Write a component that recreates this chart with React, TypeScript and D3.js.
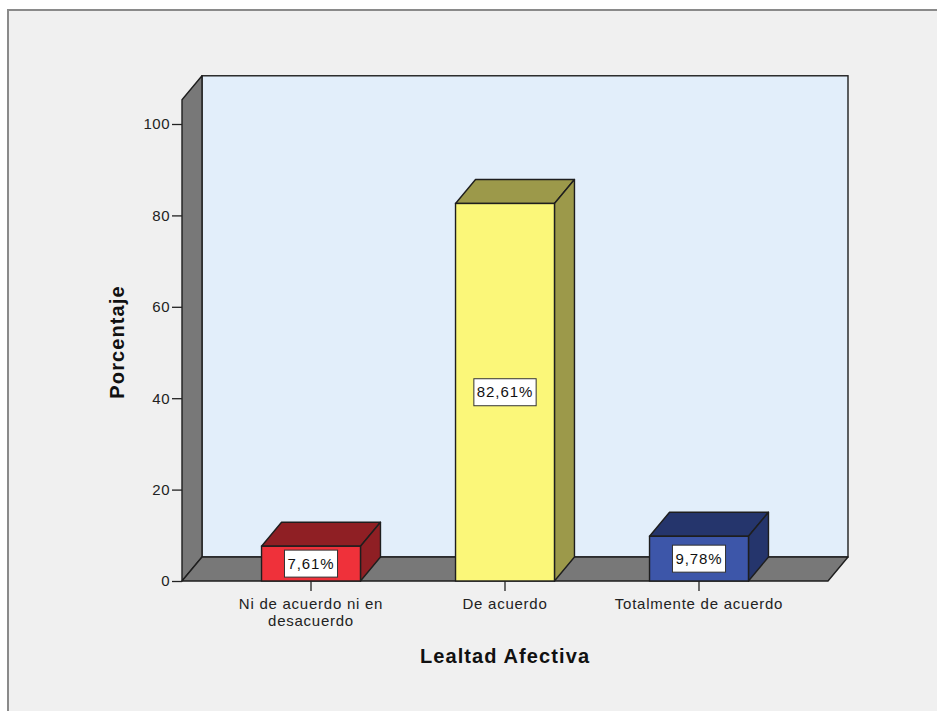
import React, { useEffect, useRef } from "react";
import * as d3 from "d3";

// datos del gráfico
const categories = ["Ni de acuerdo ni en desacuerdo", "De acuerdo", "Totalmente de acuerdo"];
const percentages = [7.61, 82.61, 9.78];
const valueLabels = ["7,61%", "82,61%", "9,78%"];
const yTicks = [0, 20, 40, 60, 80, 100];
const frontColors = ["#ef313a", "#fbf779", "#3d56a9"];
const shadeColors = ["#8f1f24", "#9c994a", "#25356c"];

const W = 937;
const H = 711;
const DX = 20;
const DY = -24;
const FONT = "Arial, 'Liberation Sans', sans-serif";

const App = () => {
  const ref = useRef<SVGSVGElement>(null);

  useEffect(() => {
    const svg = d3.select(ref.current);
    svg.selectAll("*").remove();

    const left = 182;
    const right = 828;
    const y = d3.scaleLinear().domain([0, 100]).range([581, 124]);
    const x = d3.scalePoint<string>().domain(categories).range([left, right]).padding(0.665);
    const barW = x.step() * 0.51;
    const y0 = y(0);
    const yTop = y(105.3);

    // fondo y marco
    svg.append("rect").attr("width", W).attr("height", H).attr("fill", "#fff");
    svg.append("rect")
      .attr("x", 8).attr("y", 10).attr("width", W + 10).attr("height", H + 10)
      .attr("fill", "#f0f0f0").attr("stroke", "#8a8a8a").attr("stroke-width", 2);

    const stroke = "#1e1e1e";
    const sw = 1.4;

    // pared de fondo
    svg.append("rect")
      .attr("x", left + DX).attr("y", yTop + DY)
      .attr("width", right - left).attr("height", y0 - yTop)
      .attr("fill", "#e2eefa").attr("stroke", stroke).attr("stroke-width", sw);

    // pared izquierda
    svg.append("path")
      .attr("d", `M${left},${yTop}L${left + DX},${yTop + DY}L${left + DX},${y0 + DY}L${left},${y0}Z`)
      .attr("fill", "#787878").attr("stroke", stroke).attr("stroke-width", sw)
      .attr("stroke-linejoin", "round");

    // suelo
    svg.append("path")
      .attr("d", `M${left},${y0}L${left + DX},${y0 + DY}L${right + DX},${y0 + DY}L${right},${y0}Z`)
      .attr("fill", "#787878").attr("stroke", stroke).attr("stroke-width", sw)
      .attr("stroke-linejoin", "round");

    // eje Y
    const yAxis = svg.append("g")
      .attr("transform", `translate(${left},0)`)
      .call(d3.axisLeft(y).tickValues(yTicks).tickSize(10).tickPadding(2).tickFormat(d3.format("d")));
    yAxis.select(".domain").remove();
    yAxis.selectAll("line").attr("stroke", "#222").attr("stroke-width", 1.3);
    yAxis.selectAll("text")
      .attr("font-family", FONT).attr("font-size", 15).attr("letter-spacing", 0.5)
      .attr("fill", "#222");

    // barras
    categories.forEach((c, i) => {
      const cx = x(c) as number;
      const x1 = cx - barW / 2;
      const x2 = cx + barW / 2;
      const yt = y(percentages[i]);
      const g = svg.append("g");
      g.append("path")
        .attr("d", `M${x1},${yt}L${x1 + DX},${yt + DY}L${x2 + DX},${yt + DY}L${x2},${yt}Z`)
        .attr("fill", shadeColors[i]).attr("stroke", stroke).attr("stroke-width", sw)
        .attr("stroke-linejoin", "round");
      g.append("path")
        .attr("d", `M${x2},${yt}L${x2 + DX},${yt + DY}L${x2 + DX},${y0 + DY}L${x2},${y0}Z`)
        .attr("fill", shadeColors[i]).attr("stroke", stroke).attr("stroke-width", sw)
        .attr("stroke-linejoin", "round");
      g.append("rect")
        .attr("x", x1).attr("y", yt).attr("width", barW).attr("height", y0 - yt)
        .attr("fill", frontColors[i]).attr("stroke", stroke).attr("stroke-width", sw);

      // etiqueta de valor
      const cy = (yt + y0) / 2;
      const box = g.append("rect").attr("fill", "#fff").attr("stroke", "#333").attr("stroke-width", 1);
      const t = g.append("text")
        .attr("x", cx).attr("y", cy).attr("dy", "0.35em")
        .attr("text-anchor", "middle")
        .attr("font-family", FONT).attr("font-size", 15).attr("letter-spacing", 0.9)
        .attr("fill", "#111").text(valueLabels[i]);
      const bb = (t.node() as SVGTextElement).getBBox();
      const bw = bb.width + 6;
      box.attr("x", cx - bw / 2).attr("y", cy - 13.5).attr("width", bw).attr("height", 27);

      // marca y etiqueta de categoría
      svg.append("line")
        .attr("x1", cx).attr("x2", cx).attr("y1", y0).attr("y2", y0 + 10)
        .attr("stroke", "#222").attr("stroke-width", 1.3);
      const words = c.split(" ");
      const lines: string[] = [];
      let cur = "";
      words.forEach((w) => {
        const next = cur ? cur + " " + w : w;
        if (next.length > 21 && cur) {
          lines.push(cur);
          cur = w;
        } else cur = next;
      });
      lines.push(cur);
      const lt = svg.append("text")
        .attr("text-anchor", "middle")
        .attr("font-family", FONT).attr("font-size", 15).attr("letter-spacing", 0.75)
        .attr("fill", "#222");
      lines.forEach((l, j) => {
        lt.append("tspan").attr("x", cx).attr("y", 609 + j * 16.5).text(l);
      });
    });

    // títulos de ejes
    svg.append("text")
      .attr("x", 505).attr("y", 663)
      .attr("text-anchor", "middle")
      .attr("font-family", FONT).attr("font-size", 20).attr("font-weight", "bold")
      .attr("letter-spacing", 1.1).attr("fill", "#111")
      .text("Lealtad Afectiva");
    svg.append("text")
      .attr("transform", `translate(124,342) rotate(-90)`)
      .attr("text-anchor", "middle")
      .attr("font-family", FONT).attr("font-size", 20).attr("font-weight", "bold")
      .attr("letter-spacing", 1.1).attr("fill", "#111")
      .text("Porcentaje");
  }, []);

  return (
    <svg
      ref={ref}
      width={W}
      height={H}
      style={{ position: "absolute", left: 0, top: 0, display: "block" }}
    ></svg>
  );
};

export default App;
